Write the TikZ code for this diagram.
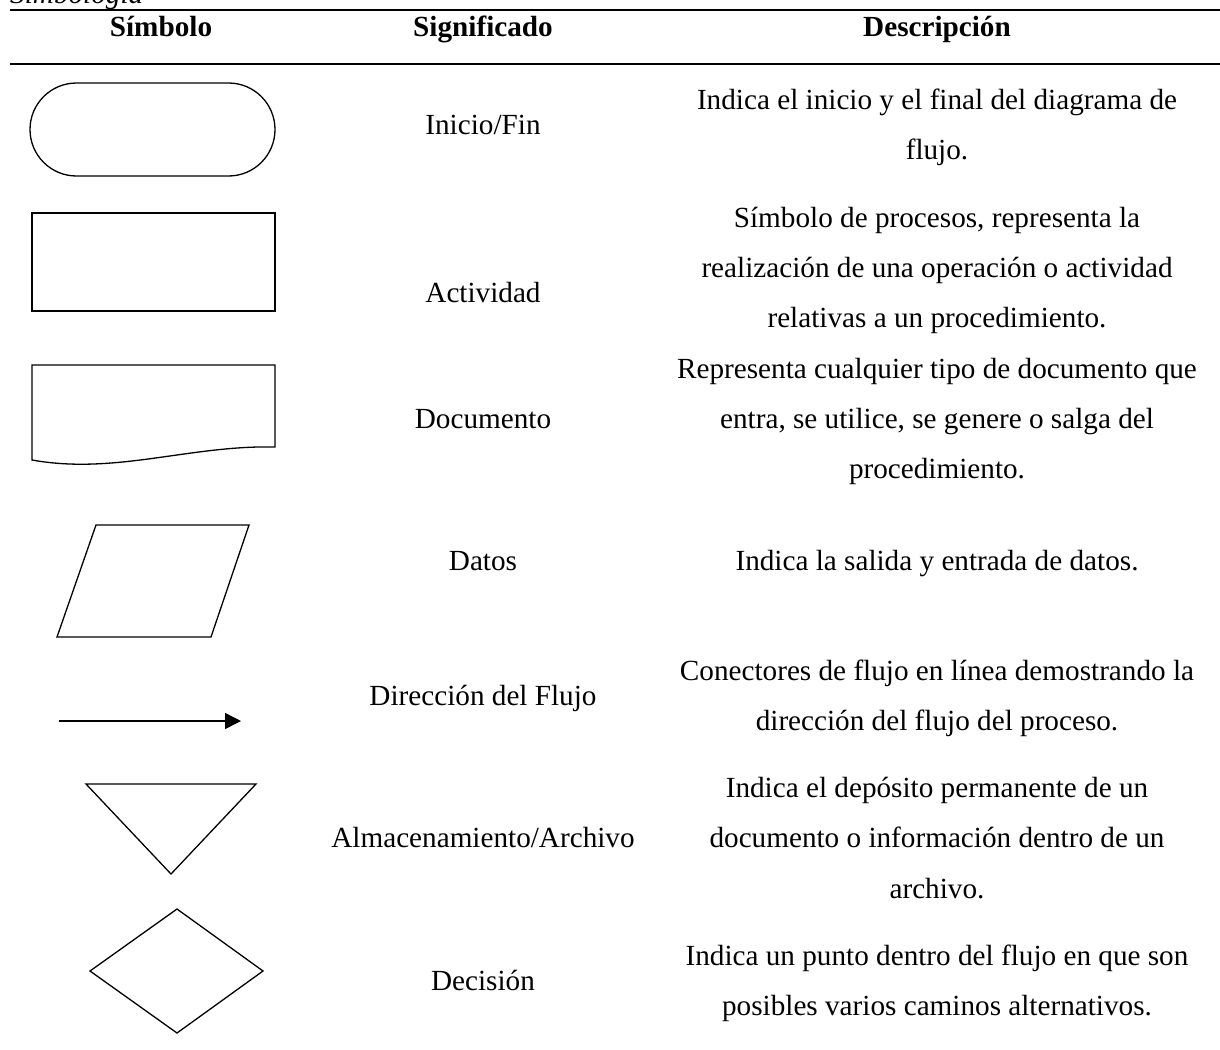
\documentclass[tikz,border=0pt]{standalone}
\usepackage{fontspec}
\setmainfont{Liberation Serif}
\usetikzlibrary{arrows.meta}
\begin{document}
\begin{tikzpicture}[x=1pt,y=-1pt,
  cell/.style={anchor=base, inner sep=0pt, font=\fontsize{29.2}{35}\selectfont},
  head/.style={anchor=base, inner sep=0pt, font=\fontsize{29.2}{35}\selectfont\bfseries},
  caption/.style={anchor=base west, inner sep=0pt, font=\fontsize{29.2}{35}\selectfont\itshape},
  rule/.style={line width=1.4pt},
  symb/.style={line width=1.3pt, line join=miter}]
\useasboundingbox (0,0) rectangle (1220,1049);
\fill[white] (0,0) rectangle (1220,1049);
\clip (0,0) rectangle (1220,1049);

% table caption, running off the top edge
\node[caption] (cap) at (10,4) {Simbología};

% header rules
\draw[rule] (10,10) -- (1220,10);
\draw[rule] (10,64) -- (1220,64);

% header
\node[head] (h1) at (161,37) {Símbolo};
\node[head] (h2) at (483,37) {Significado};
\node[head] (h3) at (937,37) {Descripción};

% symbols
\draw[symb, rounded corners=46.5pt] (30,83) rectangle (275,176);
\draw[symb] (32,213) rectangle (275,311);
\draw[symb] (32,460) -- (32,365) -- (275,365) -- (275,447)
  .. controls (190,445) and (115,475) .. (32,460) -- cycle;
\draw[symb] (96,525) -- (249,525) -- (211,637) -- (57,637) -- cycle;
\coordinate (fa) at (59,721);
\coordinate (fb) at (241,721);
\draw[line width=1.5pt, -{Triangle[length=16pt,width=16pt]}] (fa) -- (fb);
\draw[symb] (86,784) -- (256,784) -- (171,874) -- cycle;
\draw[symb] (90,971) -- (177,909) -- (263,971) -- (177,1033) -- cycle;

% meanings
\node[cell] (m1) at (483,134) {Inicio/Fin};
\node[cell] (m2) at (483,302) {Actividad};
\node[cell] (m3) at (483,428) {Documento};
\node[cell] (m4) at (483,570) {Datos};
\node[cell] (m5) at (483,705) {Dirección del Flujo};
\node[cell] (m6) at (483,847) {Almacenamiento/Archivo};
\node[cell] (m7) at (483,990) {Decisión};

% descriptions
\node[cell] (d1a) at (937,109) {Indica el inicio y el final del diagrama de};
\node[cell] (d1b) at (937,159) {flujo.};
\node[cell] (d2a) at (937,227) {Símbolo de procesos, representa la};
\node[cell] (d2b) at (937,277) {realización de una operación o actividad};
\node[cell] (d2c) at (937,327) {relativas a un procedimiento.};
\node[cell] (d3a) at (937,378) {Representa cualquier tipo de documento que};
\node[cell] (d3b) at (937,428) {entra, se utilice, se genere o salga del};
\node[cell] (d3c) at (937,478) {procedimiento.};
\node[cell] (d4a) at (937,570) {Indica la salida y entrada de datos.};
\node[cell] (d5a) at (937,680) {Conectores de flujo en línea demostrando la};
\node[cell] (d5b) at (937,730) {dirección del flujo del proceso.};
\node[cell] (d6a) at (937,797) {Indica el depósito permanente de un};
\node[cell] (d6b) at (937,847) {documento o información dentro de un};
\node[cell] (d6c) at (937,898) {archivo.};
\node[cell] (d7a) at (937,965) {Indica un punto dentro del flujo en que son};
\node[cell] (d7b) at (937,1015) {posibles varios caminos alternativos.};
\end{tikzpicture}
\end{document}
